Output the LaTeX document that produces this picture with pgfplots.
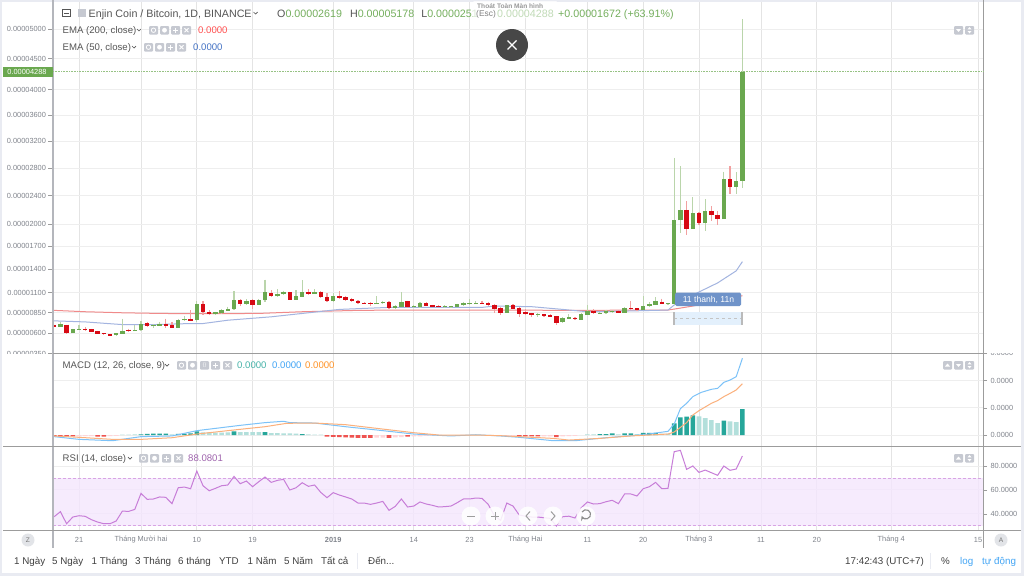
\documentclass[border=0pt]{standalone}
\usepackage{pgfplots}
\pgfplotsset{compat=1.18}
\usepackage{fontspec}
\setmainfont{Liberation Sans}

\definecolor{frame}{HTML}{E9EBF2}
\definecolor{sep}{HTML}{9C9C9C}
\definecolor{sepl}{HTML}{B4B6BC}
\definecolor{gridh}{HTML}{EEEEEE}
\definecolor{gridv}{HTML}{E4E4E4}
\definecolor{txt}{HTML}{555555}
\definecolor{axt}{HTML}{80848C}
\definecolor{upbody}{HTML}{6AA84F}
\definecolor{upwick}{HTML}{BAD5AB}
\definecolor{dnbody}{HTML}{D70A14}
\definecolor{dnwick}{HTML}{F2A0A0}
\definecolor{emared}{HTML}{F08A8A}
\definecolor{emablue}{HTML}{A3B4E0}
\definecolor{icon}{HTML}{C6C9D1}
\definecolor{teal}{HTML}{26A69A}
\definecolor{teall}{HTML}{B2DFDB}
\definecolor{redd}{HTML}{EF5350}
\definecolor{redl}{HTML}{FFD5D8}
\definecolor{macdb}{HTML}{7CC2F8}
\definecolor{macdo}{HTML}{FBB07C}
\definecolor{rsil}{HTML}{C77DD8}
\definecolor{band}{HTML}{F4E6FD}
\definecolor{greent}{HTML}{75AF5E}
\definecolor{linkb}{HTML}{42A5F5}
\definecolor{tagb}{HTML}{6F93C9}
\definecolor{rangeb}{HTML}{E3F0FC}
\definecolor{emavb}{HTML}{4472C4}
\definecolor{emavr}{HTML}{FF5050}

\pgfplotsset{
  panel/.style={
    scale only axis, width=930pt,
    xmin=-4.1935, xmax=145.806,
    axis line style={draw=none},
    xtick={0,10,19,28,41,54,63,72,82,91,100,110,119,131,145},
    xticklabels={},
    tick align=outside,
    major tick length=4pt,
    tick style={draw=sep,line width=.6pt},
    xtick style={draw=none},
    grid=major,
    x grid style={gridv,line width=1pt},
    y grid style={gridh,line width=1pt},
    ticklabel style={font=\fontsize{7.4}{8}\selectfont,text=axt},
  },
  rightaxis/.style={
    ytick pos=right, yticklabel pos=right,
    y tick label style={anchor=west},
  },
}

% candle: x, open, high, low, close (price in 1e-5 BTC)
\newcommand\up[5]{%
  \addplot[upwick,line width=1.3pt,forget plot] coordinates {(#1,#3)(#1,#4)};
  \addplot[upbody,line width=4.4pt,forget plot] coordinates {(#1,#2)(#1,#5)};}
\newcommand\dn[5]{%
  \addplot[dnwick,line width=1.3pt,forget plot] coordinates {(#1,#3)(#1,#4)};
  \addplot[dnbody,line width=4.4pt,forget plot] coordinates {(#1,#2)(#1,#5)};}

% legend icons
\newcommand\ico[3]{%
  \fill[icon,rounded corners=1pt] (#1,#2-4) rectangle (#1+9,#2+4.5);
  \ifcase#3\relax
    \draw[white,line width=.8pt] (#1+4.5,#2+.2) circle (2.2pt);
  \or
    \fill[white] (#1+4.5,#2+.2) circle (2.4pt);
  \or
    \draw[white,line width=.9pt] (#1+4.5,#2-2.3)--(#1+4.5,#2+2.8) (#1+2,#2+.2)--(#1+7,#2+.2);
  \or
    \draw[white,line width=.9pt] (#1+2.5,#2-1.8)--(#1+6.5,#2+2.2) (#1+2.5,#2+2.2)--(#1+6.5,#2-1.8);
  \or
    \node[white,font=\fontsize{5}{5}\selectfont,inner sep=0] at (#1+4.5,#2+.2) {\{\}};
  \or
    \fill[white] (#1+2,#2+1.5)--(#1+7,#2+1.5)--(#1+4.5,#2-1.5)--cycle;
  \or
    \fill[white] (#1+2,#2-1)--(#1+7,#2-1)--(#1+4.5,#2+2)--cycle;
  \or
    \fill[white] (#1+2.5,#2-.6)--(#1+6.5,#2-.6)--(#1+4.5,#2-3)--cycle (#1+2.5,#2+1)--(#1+6.5,#2+1)--(#1+4.5,#2+3.4)--cycle;
  \fi}
\newcommand\chev[2]{\draw[txt,line width=.7pt] (#1-2,#2-1)--(#1,#2+1)--(#1+2,#2-1);}
\newcommand\btn[2]{\fill[white,opacity=.85] (#1,#2) circle (9.5pt);}

\begin{document}
\begin{tikzpicture}[x=1pt,y=-1pt,
  lab/.style={anchor=base west,inner sep=0pt,text=txt,font=\fontsize{9.6}{12}\selectfont},
  head/.style={anchor=base west,inner sep=0pt,text=txt,font=\fontsize{10.7}{14}\selectfont},
  tb/.style={anchor=base west,inner sep=0pt,text=black!75,font=\fontsize{9.8}{12}\selectfont}]
\path[use as bounding box] (0,0) rectangle (1024,576);
\fill[frame] (0,0) rectangle (1024,576);
\fill[white] (2,2) rectangle (1021,573);

% price panel
\begin{scope}
\clip (0,0) rectangle (1024,353);
\begin{axis}[panel,
  at={(53pt,-354pt)}, anchor=south west, height=352pt,
  y coord trafo/.code={\pgfmathparse{-(333-77.857*(#1-0.6)+2.922*(#1-0.6)*(#1-2)+0.71*max(#1-2,0)*max(5-#1,0))}},
  ymin=0.346, ymax=5.493,
  ytick={5,4.5,4,3.6,3.2,2.8,2.4,2,1.7,1.4,1.1,0.85,0.6,0.35},
  yticklabels={0.00005000,0.00004500,0.00004000,0.00003600,0.00003200,0.00002800,0.00002400,0.00002000,0.00001700,0.00001400,0.00001100,0.00000850,0.00000600,0.00000350},
  ytick pos=left,
  major tick length=5pt,
  y tick label style={anchor=east,xshift=1.5pt},
]
% EMA 200
\addplot[emared,line width=1pt] coordinates {(-4,.879)(1,.862)(7,.849)(13,.841)(19,.837)(29,.841)(36,.862)(45,.879)(52,.883)(66,.883)(80,.879)(95,.883)(96,.895)(99,.933)(103,.996)(107,1.063)};
% EMA 50
\addplot[emablue,line width=1pt] coordinates {(-4,.749)(1,.736)(7,.703)(12,.703)(18,.716)(20,.716)(24,.757)(31,.799)(37,.849)(42,.891)(50,.916)(65,.916)(67,.933)(73,.925)(78,.891)(82,.862)(88,.87)(95,.883)(96,.946)(100,1.11)(103,1.225)(106,1.38)(107,1.5)};

\dn{-4}{.695}{.703}{.670}{.674}
\up{-3}{.674}{.736}{.674}{.707}
\dn{-2}{.703}{.703}{.582}{.603}
\up{-1}{.594}{.653}{.594}{.644}
\up{0}{.636}{.703}{.632}{.644}
\dn{1}{.653}{.670}{.628}{.632}
\dn{2}{.644}{.653}{.611}{.615}
\dn{3}{.619}{.628}{.586}{.590}
\dn{4}{.598}{.603}{.573}{.582}
\dn{5}{.586}{.590}{.561}{.569}
\up{6}{.573}{.598}{.569}{.594}
\up{7}{.590}{.778}{.590}{.628}
\dn{8}{.640}{.653}{.615}{.624}
\up{9}{.624}{.695}{.619}{.636}
\up{10}{.632}{.753}{.628}{.707}
\dn{11}{.720}{.736}{.674}{.682}
\up{12}{.682}{.716}{.657}{.699}
\up{13}{.686}{.741}{.682}{.707}
\dn{14}{.707}{.778}{.665}{.682}
\dn{15}{.695}{.736}{.657}{.661}
\up{16}{.665}{.774}{.661}{.757}
\up{17}{.757}{.808}{.753}{.766}
\dn{18}{.770}{.883}{.749}{.753}
\up{19}{.757}{.992}{.736}{.954}
\dn{20}{.954}{.996}{.820}{.858}
\dn{21}{.862}{.883}{.820}{.829}
\up{22}{.829}{.862}{.820}{.854}
\up{23}{.841}{.891}{.837}{.879}
\up{24}{.875}{.925}{.870}{.895}
\up{25}{.891}{1.121}{.883}{1.008}
\dn{26}{1.013}{1.021}{.937}{.954}
\up{27}{.958}{1.017}{.946}{1.000}
\dn{28}{1.004}{1.021}{.895}{.950}
\up{29}{.950}{1.021}{.946}{1.013}
\up{30}{1.004}{1.268}{.979}{1.105}
\dn{31}{1.100}{1.134}{1.050}{1.059}
\up{32}{1.059}{1.142}{1.050}{1.088}
\up{33}{1.080}{1.126}{1.071}{1.109}
\dn{34}{1.105}{1.113}{1.008}{1.013}
\up{35}{1.013}{1.134}{1.008}{1.059}
\up{36}{1.050}{1.259}{1.042}{1.113}
\dn{37}{1.113}{1.142}{1.067}{1.080}
\up{38}{1.084}{1.142}{1.080}{1.109}
\dn{39}{1.113}{1.117}{1.034}{1.042}
\dn{40}{1.046}{1.092}{.988}{.996}
\up{41}{.996}{1.100}{.988}{1.059}
\dn{42}{1.059}{1.121}{1.025}{1.029}
\dn{43}{1.042}{1.059}{1.000}{1.013}
\dn{44}{1.017}{1.034}{.988}{.996}
\dn{45}{1.000}{1.008}{.962}{.967}
\dn{46}{.975}{.979}{.954}{.958}
\dn{47}{.971}{.979}{.937}{.954}
\up{48}{.958}{1.059}{.954}{.971}
\up{49}{.967}{1.000}{.962}{.983}
\dn{50}{.983}{.992}{.891}{.904}
\up{51}{.904}{.941}{.900}{.937}
\up{52}{.925}{1.109}{.925}{.988}
\dn{53}{.992}{1.000}{.912}{.916}
\up{54}{.921}{.941}{.912}{.937}
\up{55}{.925}{.979}{.904}{.967}
\dn{56}{.971}{.979}{.933}{.937}
\dn{57}{.946}{.950}{.916}{.921}
\dn{58}{.937}{.941}{.916}{.921}
\up{59}{.916}{.941}{.904}{.933}
\up{60}{.916}{.937}{.904}{.933}
\up{61}{.925}{.962}{.921}{.954}
\up{62}{.941}{.988}{.937}{.975}
\up{63}{.954}{1.017}{.950}{.975}
\up{64}{.958}{.992}{.954}{.975}
\dn{65}{.975}{1.000}{.954}{.958}
\dn{66}{.971}{.988}{.937}{.941}
\dn{67}{.946}{.958}{.841}{.891}
\dn{68}{.908}{.916}{.820}{.849}
\up{69}{.849}{.941}{.845}{.941}
\dn{70}{.941}{.954}{.891}{.900}
\dn{71}{.912}{.921}{.799}{.829}
\dn{72}{.862}{.891}{.816}{.829}
\dn{73}{.841}{.849}{.799}{.816}
\up{74}{.820}{.841}{.799}{.833}
\dn{75}{.829}{.837}{.799}{.808}
\dn{76}{.824}{.833}{.795}{.799}
\dn{77}{.808}{.812}{.695}{.728}
\up{78}{.732}{.791}{.728}{.787}
\up{79}{.774}{.829}{.766}{.791}
\dn{80}{.787}{.791}{.762}{.766}
\up{81}{.762}{.841}{.757}{.829}
\up{82}{.820}{.946}{.820}{.870}
\dn{83}{.866}{.891}{.833}{.841}
\up{84}{.837}{.854}{.833}{.849}
\up{85}{.841}{.887}{.837}{.875}
\up{86}{.854}{.879}{.849}{.870}
\dn{87}{.870}{.883}{.845}{.849}
\up{88}{.849}{.916}{.845}{.904}
\dn{89}{.904}{.996}{.883}{.891}
\dn{90}{.904}{.908}{.875}{.879}
\up{91}{.883}{1.059}{.879}{.937}
\up{92}{.937}{.979}{.925}{.958}
\up{93}{.946}{1.042}{.941}{.992}
\dn{94}{.988}{1.025}{.954}{.958}
\up{95}{.954}{.971}{.950}{.967}
\up{96}{.96}{2.95}{.95}{2.06}
\up{97}{2.05}{2.83}{1.88}{2.2}
\dn{98}{2.2}{2.32}{1.85}{1.93}
\up{99}{1.93}{2.38}{1.93}{2.15}
\dn{100}{2.16}{2.17}{1.99}{2.01}
\up{101}{2.01}{2.35}{1.9}{2.18}
\dn{102}{2.18}{2.25}{2.04}{2.12}
\dn{103}{2.12}{2.18}{1.99}{2.07}
\up{104}{2.07}{2.75}{2.07}{2.64}
\dn{105}{2.64}{2.83}{2.42}{2.53}
\up{106}{2.53}{2.74}{2.43}{2.61}
\up{107}{2.619}{5.178}{2.51}{4.288}
\end{axis}
\end{scope}

% MACD panel
\begin{scope}
\clip (0,353) rectangle (1024,446);
\begin{axis}[panel,rightaxis,
  at={(53pt,-446pt)}, anchor=south west, height=93pt,
  ymin=-0.809, ymax=6.029,
  ytick={0,2,4,6},
  yticklabels={0.0000,0.0000,0.0000,0.0000},
]
\addplot[ybar,bar width=4.6pt,bar shift=0pt,fill=teall,draw=none] coordinates {
(7,.02)(8,.03)(9,.04)(15,.05)(20,.2)(21,.19)(22,.18)(23,.18)(24,.19)(26,.22)(27,.22)(28,.21)(29,.21)
(31,.14)(32,.13)(33,.12)(34,.12)(35,.1)(37,.04)(38,.03)(39,.02)(82,.05)(83,.05)(87,.05)(90,.07)(94,.1)(95,.1)
(100,1.37)(101,1.25)(102,1.1)(103,.88)(105,1)(106,.95)};
\addplot[ybar,bar width=4.6pt,bar shift=0pt,fill=teal,draw=none] coordinates {
(10,.05)(11,.08)(12,.1)(13,.1)(14,.1)(16,.08)(17,.1)(18,.12)(19,.27)(25,.27)(30,.22)(36,.07)
(84,.07)(85,.07)(86,.12)(88,.12)(89,.12)(91,.15)(92,.15)(93,.15)
(96,.86)(97,1.3)(98,1.35)(99,1.45)(104,1.05)(107,1.9)};
\addplot[ybar,bar width=4.6pt,bar shift=0pt,fill=redl,draw=none] coordinates {
(0,-.1)(1,-.09)(2,-.08)(5,-.08)(6,-.07)(48,-.2)(49,-.2)(51,-.18)(52,-.15)(54,-.1)(55,-.1)(56,-.06)(57,-.05)(58,-.04)(59,-.03)(60,-.03)
(66,-.05)(67,-.07)(68,-.08)(69,-.08)(70,-.09)(75,-.1)(76,-.1)(78,-.1)(79,-.08)(80,-.06)};
\addplot[ybar,bar width=4.6pt,bar shift=0pt,fill=redd,draw=none] coordinates {
(-4,-.1)(-3,-.12)(-2,-.12)(-1,-.1)(3,-.12)(4,-.12)(40,-.12)(41,-.13)(42,-.15)(43,-.18)(44,-.2)(45,-.22)(46,-.22)(47,-.22)(50,-.22)(53,-.12)
(71,-.1)(72,-.1)(73,-.1)(74,-.1)(77,-.15)};
% MACD line
\addplot[macdb,line width=1pt] coordinates {(-4,-.12)(0,-.32)(5.4,-.42)(10,-.12)(15,-.07)(19,.32)(26,.71)(30,.91)(33,1.01)(34,.91)(38,.88)(43,.61)(48,.37)(54,.07)(60,-.07)(64,.02)(68,-.07)(71,-.17)(76.5,-.42)(80,-.42)(85,-.2)(91,.02)(95,.27)(96,.81)(97,1.94)(98,2.33)(99,2.82)(100.4,3.14)(102,3.36)(103,3.43)(104,3.87)(105,4.04)(106,4.29)(107,5.64)};
% signal
\addplot[macdo,line width=1pt] coordinates {(-4,-.07)(0,-.17)(5.4,-.32)(10,-.32)(15,-.2)(19,.07)(25,.37)(30,.61)(33.5,.86)(38,.88)(43,.76)(48,.49)(54,.17)(58,0)(64,0)(68,-.05)(71,-.12)(76.5,-.25)(79,-.37)(84,-.25)(89,-.07)(95,.07)(96,.22)(97,.56)(98,.91)(99,1.47)(100,1.79)(102,2.33)(103,2.53)(104,2.82)(105,3.06)(106,3.31)(107,3.77)};
\end{axis}
\end{scope}

% RSI panel with the time axis labels
\begin{axis}[panel,rightaxis,
  at={(53pt,-530pt)}, anchor=south west, height=84pt,
  ymin=26.44, ymax=96.74,
  ytick={40,60,80},
  yticklabels={40.0000,60.0000,80.0000},
  xticklabels={21,Tháng Mười hai,10,19,\textbf{2019},14,23,Tháng Hai,11,20,Tháng 3,11,20,Tháng 4,15},
  x tick label style={anchor=center,yshift=-6pt},
]
\addplot[fill=band,draw=none,fill opacity=.8] coordinates {(-4.2,30)(145.81,30)(145.81,70)(-4.2,70)} -- cycle;
\addplot[rsil!70,densely dashed,line width=.7pt] coordinates {(-4.2,70)(145.81,70)};
\addplot[rsil!70,densely dashed,line width=.7pt] coordinates {(-4.2,30)(145.81,30)};
\addplot[rsil,line width=1pt] coordinates {(-4,37.6)(-3,41.8)(-2,31.7)(-1,37.3)(0,38.4)(1,37.9)(2,35.1)(3,33.1)(4,31.7)(5,31.7)(6,34)(7,42.3)(8,42)(9,43.7)(10,57.1)(11,52.1)(12,52.4)(13,54.1)(14,53.8)(15,48.5)(16,61.8)(17,62.4)(18,61)(19,75.8)(20,63.5)(21,59.3)(22,61.3)(23,63.5)(24,64.1)(25,71.3)(26,65.2)(27,67.4)(28,62.7)(29,66.9)(30,70.8)(31,66.3)(32,68)(33,68.8)(34,59.9)(35,61.8)(36,66)(37,63)(38,64.1)(39,57.9)(40,53.5)(41,57.7)(42,55.7)(43,54.1)(44,52.4)(45,49)(46,49)(47,47.9)(48,49)(49,50.4)(50,42.9)(51,46.2)(52,52.4)(53,45.7)(54,46.5)(55,49.9)(56,48.2)(57,47.1)(58,45.7)(59,46)(60,46.5)(61,49.3)(62,52.4)(63,52.4)(64,53.2)(65,52.9)(66,47.9)(67,38.4)(68,34.5)(69,49)(70,46.5)(71,39)(72,38)(73,37.3)(74,37.3)(75,36.7)(76,36.2)(77,29.8)(78,37.6)(79,38)(80,36.5)(81,45.1)(82,49.9)(83,48.2)(84,48.5)(85,50.1)(86,51.3)(87,48.5)(88,56.6)(89,56.6)(90,54.9)(91,61)(92,62.7)(93,66.3)(94,61)(95,61.3)(96,92)(97,93.1)(98,77.2)(99,80)(100,74.7)(101,76.6)(102,74.4)(103,72.2)(104,80)(105,76.4)(106,77.5)(107,88.4)};
\end{axis}

% panel separators
\draw[sepl,line width=1.5pt] (53,0)--(53,548);
\draw[sep,line width=1pt] (983,0)--(983,548);
\draw[sep,line width=1pt] (53,353)--(983,353) (3,446)--(1021,446) (3,530)--(1021,530);

% last price
\draw[upbody!70,densely dotted,line width=.6pt] (53,71.5)--(983,71.5);
\fill[upbody] (3,66.7) rectangle (53,77);
\node[anchor=center,inner sep=0,text=white,font=\fontsize{7.4}{8}\selectfont] at (27,72) {0.00004288};

% measure tool
\fill[rangeb] (674,312) rectangle (742,325);
\draw[sep!60,line width=.7pt,dashed] (674,318.5)--(742,318.5);
\draw[sep!70,line width=1.2pt] (674,312)--(674,325) (742,312)--(742,325);
\fill[rounded corners=1.5pt,fill=tagb] (675,292.5) rectangle (741,306);
\node[anchor=center,inner sep=0,text=white,font=\fontsize{8.6}{10}\selectfont] at (708.5,299.5) {11 thanh, 11n};

% header
\draw[txt,line width=.6pt] (62.5,9) rectangle (70,16.5) (64,12.8)--(68.5,12.8);
\fill[icon] (78,9) rectangle (86,17);
\node[head] at (88.5,17) {Enjin Coin / Bitcoin, 1D, BINANCE};
\chev{255.5}{13}
\node[head,text=greent] at (277,17) {\textcolor{txt}{O}0.00002619\hspace{8pt}\textcolor{txt}{H}0.00005178\hspace{7pt}\textcolor{txt}{L}0.0000251};
\node[head,text=greent] at (558,17) {+0.00001672 (+63.91\%)};
\fill[white,opacity=.75,rounded corners=1pt] (473,1) rectangle (557,18);
\node[lab,font=\bfseries\fontsize{6.6}{8}\selectfont,text=black!40] at (477,8.4) {Thoát Toàn Màn hình};
\node[lab,font=\fontsize{8.4}{8}\selectfont,text=black!50] at (476,16) {(Esc)};
\node[head,text=greent!45] at (497,17) {0.00004288};

\fill[black!72] (512,45) circle (16pt);
\draw[white,line width=1.1pt] (507.5,40.5)--(516.5,49.5) (507.5,49.5)--(516.5,40.5);

\node[lab] at (62.5,33.7) {EMA (200, close)};
\chev{139}{30}
\ico{149}{30}{0}\ico{160}{30}{1}\ico{171}{30}{2}\ico{182}{30}{3}
\node[lab,text=emavr] at (198,33.7) {0.0000};
\node[lab] at (62.5,50.7) {EMA (50, close)};
\chev{134}{47}
\ico{144}{47}{0}\ico{155}{47}{1}\ico{166}{47}{2}\ico{177}{47}{3}
\node[lab,text=emavb] at (193,50.7) {0.0000};
\ico{954}{30}{6}\ico{965}{30}{7}

\node[lab] at (62.5,368.7) {MACD (12, 26, close, 9)};
\chev{167}{365}
\ico{177}{365}{0}\ico{188}{365}{1}\ico{200}{365}{4}\ico{211}{365}{2}\ico{223}{365}{3}
\node[lab,text=teal!85] at (237,368.7) {0.0000};
\node[lab,text=linkb] at (272,368.7) {0.0000};
\node[lab,text=orange!85] at (305,368.7) {0.0000};
\ico{943}{365}{5}\ico{954}{365}{6}\ico{965}{365}{7}

\node[lab] at (62.5,461.7) {RSI (14, close)};
\chev{130}{458}
\ico{139}{458}{0}\ico{150}{458}{1}\ico{162}{458}{2}\ico{174}{458}{3}
\node[lab,text=rsil!80!black] at (188,461.7) {88.0801};
\ico{954}{458}{5}\ico{965}{458}{7}

% zoom buttons
\btn{471}{516}\btn{495}{516}\btn{528}{516}\btn{553}{516}\btn{586}{516}
\draw[black!38,line width=1pt] (467,516)--(475,516) (491,516)--(499,516) (495,512)--(495,520);
\draw[black!38,line width=1pt] (530,511.5)--(526,516)--(530,520.5) (551,511.5)--(555,516)--(551,520.5);
\draw[black!45,line width=1.1pt,->,>=stealth] (582,512) arc[start angle=150,end angle=-160,radius=4.6pt];

% scale buttons and time bar
\fill[icon!50] (28,540) circle (6.5pt) (1001,540) circle (6.5pt);
\node[anchor=center,inner sep=0,text=black!55,font=\fontsize{6.6}{8}\selectfont] at (28,540) {Z};
\node[anchor=center,inner sep=0,text=black!55,font=\fontsize{6.6}{8}\selectfont] at (1001,540) {A};

% range buttons
\node[tb] at (14,564.5) {1 Ngày};
\node[tb] at (52,564.5) {5 Ngày};
\node[tb] at (91.5,564.5) {1 Tháng};
\node[tb] at (135,564.5) {3 Tháng};
\node[tb] at (178,564.5) {6 tháng};
\node[tb] at (219,564.5) {YTD};
\node[tb] at (247.5,564.5) {1 Năm};
\node[tb] at (284,564.5) {5 Năm};
\node[tb] at (321,564.5) {Tất cả};
\draw[frame,line width=1pt] (357.5,553)--(357.5,569) (930.5,553)--(930.5,569);
\node[tb] at (368,564.5) {Đến...};
\node[tb] at (845,564.5) {17:42:43 (UTC+7)};
\node[tb] at (941,564.5) {\%};
\node[tb,text=linkb] at (960,564.5) {log};
\node[tb,text=linkb] at (982,564.5) {tự động};
\end{tikzpicture}
\end{document}
